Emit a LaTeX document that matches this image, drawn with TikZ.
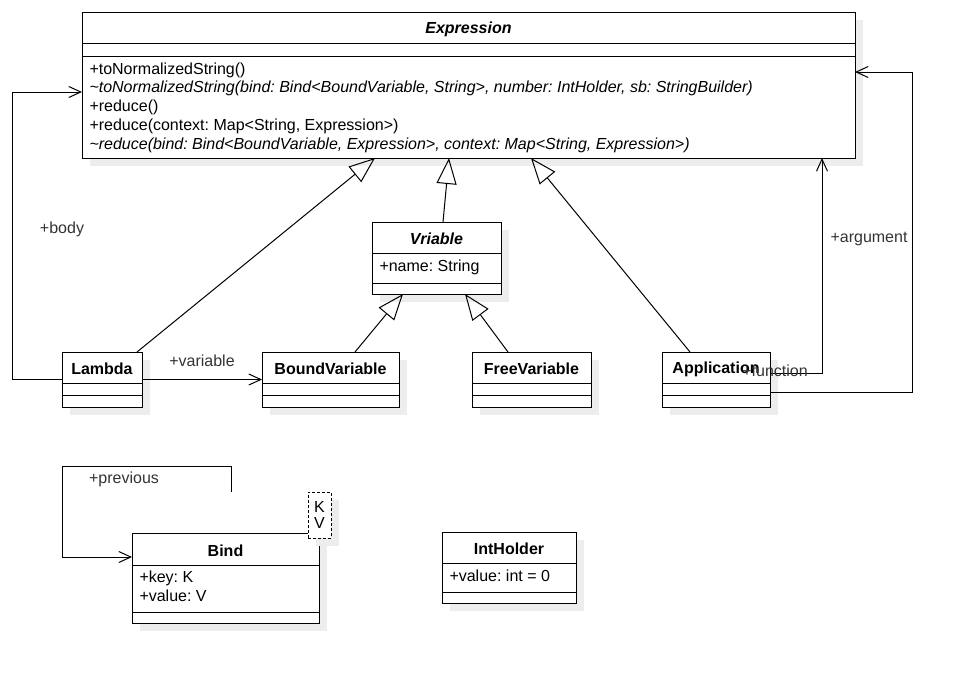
\documentclass[tikz,border=0pt]{standalone}
\usepackage{fontspec}
\setmainfont{Liberation Sans}
\frenchspacing
\usetikzlibrary{calc}
\usetikzlibrary{arrows.meta}
\tikzset{
  class box/.style = {draw, fill=white, line width=1pt, inner sep=0pt, outer sep=0pt, anchor=north west}
}
\tikzset{
  class shadow/.style = {fill=black!7}
}
\tikzset{
  every node/.style = {font = \fontsize{16}{19}\selectfont}
}
\tikzset{
  member/.style = {anchor=west, inner sep=0pt, text height=12pt, text depth=3.4pt},
  role/.style = {inner sep=0pt, text=black!80}
}
\tikzset{
  generalization/.style = {-{Triangle[open, length=26pt, width=20pt]}},
  association/.style = {-{Straight Barb[length=12pt, width=11pt]}}
}
\newcommand{\umlclass}[8]{
  \fill[class shadow] ({#2+8},{#3+8}) rectangle ({#4+8},{#5+8});
  \node[class box, minimum width={#4-#2}, minimum height={#5-#3}] (#1) at (#2,#3) {};
  \draw (#2,#6) -- (#4,#6);
  \draw (#2,#7) -- (#4,#7);
  \node (#1-title) at ({(#2+#4)/2},{(#3+#6)/2+1.5}) {#8};
}

\begin{document}
\begin{tikzpicture}[x=1pt, y=-1pt, line width=1pt]
  \useasboundingbox (0,0) rectangle (963,673);

  \umlclass{expression}{82}{12}{855}{158}{43}{56}{\textbf{\textit{Expression}}}
  \node[member] (expr-m1) at (89,70) {+toNormalizedString()};
  \node[member] (expr-m2) at (89,88.5) {\textit{\textasciitilde toNormalizedString(bind: Bind<BoundVariable, String>, number: IntHolder, sb: StringBuilder)}};
  \node[member] (expr-m3) at (89,107) {+reduce()};
  \node[member] (expr-m4) at (89,126) {+reduce(context: Map<String, Expression>)};
  \node[member] (expr-m5) at (89,145) {\textit{\textasciitilde reduce(bind: Bind<BoundVariable, Expression>, context: Map<String, Expression>)}};

  \umlclass{vriable}{372}{222}{501}{294}{253}{283}{\textbf{\textit{Vriable}}}
  \node[member] (vriable-m1) at (379,267) {+name: String};

  \umlclass{lambda}{62}{352}{142}{407}{383}{395}{\textbf{Lambda}}
  \umlclass{boundvar}{262}{352}{399}{407}{383}{395}{\textbf{BoundVariable}}
  \umlclass{freevar}{472}{352}{591}{407}{383}{395}{\textbf{FreeVariable}}
  \umlclass{application}{662}{352}{770}{407}{383}{395}{\textbf{Application}}

  \umlclass{bind}{132}{533}{319}{623}{565}{612}{\textbf{Bind}}
  \node[member] (bind-m1) at (139,578) {+key: K};
  \node[member] (bind-m2) at (139,597) {+value: V};
  \fill[class shadow] (316,500) rectangle (339,546);
  \node[class box, dashed, dash pattern=on 3pt off 2pt, minimum width=23, minimum height=46,
        align=center, font=\fontsize{16}{16}\selectfont] (bind-params) at (308,492) {K\\V};

  \umlclass{intholder}{442}{532}{576}{603}{563}{592}{\textbf{IntHolder}}
  \node[member] (intholder-m1) at (449,577) {+value: int = 0};

  % inheritance
  \draw[generalization] ($(lambda.north east)+(-5,0)$) -- ($(expression.south west)+(293,0)$);
  \draw[generalization] ($(vriable.north)+(6.5,0)$) -- ($(expression.south west)+(367,0)$);
  \draw[generalization] ($(application.north west)+(28,0)$) -- ($(expression.south west)+(449,0)$);
  \draw[generalization] ($(boundvar.north west)+(93,0)$) -- ($(vriable.south west)+(31,0)$);
  \draw[generalization] ($(freevar.north west)+(36,0)$) -- ($(vriable.south west)+(93,0)$);

  % associations
  \draw[association] (lambda.west) -- ++(-50,0) |- ($(expression.north west)+(0,80)$);
  \node[role] (body-label) at (62,229) {+body};
  \draw[association] (lambda.east) -- (boundvar.west);
  \node[role] (variable-label) at (202,361) {+variable};
  \draw[association] ($(application.north east)+(0,21)$) -| ($(expression.south west)+(740,0)$);
  \node[role] (argument-label) at (869,239) {+argument};
  \draw[association] ($(application.north east)+(0,40)$) -| ($(expression.north east)+(57,60)$)
    -- ($(expression.north east)+(0,60)$);
  \node[role] (function-label) at (775,371) {+function};
  \draw[association] ($(bind.north west)+(99,-41)$) |- ($(bind.north west)+(-70,-67)$)
    |- ($(bind.north west)+(0,24)$);
  \node[role] (previous-label) at (124,479) {+previous};
\end{tikzpicture}
\end{document}
